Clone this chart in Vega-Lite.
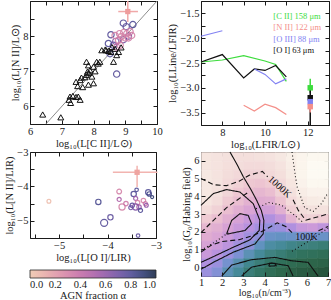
{
"$schema": "https://vega.github.io/schema/vega-lite/v6.json",
"autosize": {"type": "none"},
"padding": {"left": 30, "top": 1, "right": 301, "bottom": 299},
"background": "white",
"bounds": "flush",
"columns": 2,
"spacing": {"row": 27, "column": 44},
"config": {
  "font": "Liberation Serif",
  "view": {"stroke": "#1a1a1a", "strokeWidth": 1},
  "axis": {"domain": false, "grid": false, "tickSize": -4, "tickColor": "#1a1a1a", "tickWidth": 1, "labelPadding": 6, "labelFontSize": 10.5, "labelColor": "#1a1a1a", "titleFontSize": 10.5, "titleFontWeight": "normal", "titleColor": "#1a1a1a", "titlePadding": 2, "labelFlush": false, "labelOverlap": false, "labelBound": false},
  "text": {"font": "Liberation Serif"}
},
"resolve": {"scale": {"color": "independent", "size": "independent", "strokeDash": "independent", "stroke": "independent"}},
"concat": [
   {
    "width": 127, "height": 123,
    "resolve": {"axis": {"x": "independent", "y": "independent"}},
    "layer": [
     {
      "data": {"values": [{"x": 6.5, "y": 5.5, "x2": 10, "y2": 9}]},
      "mark": {"type": "rule", "color": "#8c8c8c", "strokeWidth": 1},
      "encoding": {
        "x": {"field": "x", "type": "quantitative", "scale": {"domain": [6, 10], "nice": false, "zero": false}, "axis": {"title": "log₁₀(L[C II]/L⊙)", "format": ".0f", "values": [6,6.5,7,7.5,8,8.5,9,9.5,10], "labelExpr": "datum.value % 1 === 0 ? datum.label : ''"}},
        "y": {"field": "y", "type": "quantitative", "scale": {"domain": [5.5, 9], "nice": false, "zero": false}, "axis": {"title": "log₁₀(L[N II]/L⊙)", "format": ".0f", "values": [5.5,6,6.5,7,7.5,8,8.5,9], "labelExpr": "datum.value % 1 === 0 && datum.value < 9 ? datum.label : ''"}},
        "x2": {"field": "x2"}, "y2": {"field": "y2"}
      }
     },
     {
      "data": {"values": [
        {"x": 8.94, "y": 8.37, "agn": 0.78}, {"x": 9.03, "y": 8.27, "agn": 0.75}, {"x": 9.24, "y": 8.33, "agn": 0.8},
        {"x": 8.55, "y": 8.04, "agn": 0.78}, {"x": 8.94, "y": 7.9, "agn": 0.72}, {"x": 8.47, "y": 7.79, "agn": 0.8},
        {"x": 8.63, "y": 7.74, "agn": 0.75}, {"x": 8.52, "y": 7.5, "agn": 0.8}, {"x": 8.73, "y": 6.92, "agn": 0.78},
        {"x": 9.1, "y": 8.0, "agn": 0.7}, {"x": 8.7, "y": 7.85, "agn": 0.65},
        {"x": 8.68, "y": 8.02, "agn": 0.3}, {"x": 8.82, "y": 8.07, "agn": 0.32}, {"x": 8.88, "y": 7.99, "agn": 0.28},
        {"x": 9.05, "y": 8.07, "agn": 0.3}, {"x": 9.15, "y": 8.13, "agn": 0.35}, {"x": 9.2, "y": 8.02, "agn": 0.3},
        {"x": 8.79, "y": 7.88, "agn": 0.33}, {"x": 8.84, "y": 7.74, "agn": 0.3}, {"x": 8.73, "y": 7.69, "agn": 0.38},
        {"x": 9.0, "y": 7.95, "agn": 0.3}, {"x": 8.95, "y": 8.1, "agn": 0.28}, {"x": 9.1, "y": 7.95, "agn": 0.32}
      ]},
      "mark": {"type": "point", "shape": "circle", "filled": false, "strokeWidth": 1.2, "size": 40, "opacity": 0.9},
      "encoding": {
        "x": {"field": "x", "type": "quantitative", "scale": {"domain": [6, 10], "nice": false, "zero": false}, "axis": null},
        "y": {"field": "y", "type": "quantitative", "scale": {"domain": [5.5, 9], "nice": false, "zero": false}, "axis": null},
        "color": {"field": "agn", "type": "quantitative", "legend": null, "scale": {"domain": [0,0.1,0.2,0.3,0.4,0.5,0.6,0.7,0.8,0.9,1], "range": ["#efc7ae","#e9b1aa","#e09aa9","#d483a8","#c46ea8","#ae62a9","#9159a8","#7154a4","#514d96","#323e74","#1b2946"]}}
      }
     },
     {
      "data": {"values": [
        {"x": 6.4, "y": 5.77}, {"x": 6.97, "y": 5.69}, {"x": 7.23, "y": 6.19}, {"x": 7.28, "y": 6.1}, {"x": 7.26, "y": 6.28},
        {"x": 7.35, "y": 6.3}, {"x": 7.45, "y": 6.27}, {"x": 7.52, "y": 6.28}, {"x": 7.58, "y": 6.19}, {"x": 7.45, "y": 6.7},
        {"x": 7.5, "y": 6.58}, {"x": 7.58, "y": 6.75}, {"x": 7.66, "y": 6.55}, {"x": 7.62, "y": 6.82}, {"x": 7.73, "y": 6.83},
        {"x": 7.81, "y": 6.99}, {"x": 7.89, "y": 7.03}, {"x": 7.95, "y": 6.85}, {"x": 8.0, "y": 6.66}, {"x": 7.84, "y": 6.62},
        {"x": 7.78, "y": 6.9}, {"x": 7.86, "y": 6.95}, {"x": 7.84, "y": 7.17}, {"x": 7.78, "y": 7.27}, {"x": 8.0, "y": 7.13},
        {"x": 8.05, "y": 7.0}, {"x": 8.1, "y": 7.27}, {"x": 8.2, "y": 7.27}, {"x": 8.15, "y": 7.22}, {"x": 8.26, "y": 7.6},
        {"x": 8.37, "y": 7.62}, {"x": 8.47, "y": 7.58}, {"x": 8.58, "y": 7.69}, {"x": 8.68, "y": 7.64}, {"x": 8.73, "y": 7.46},
        {"x": 8.63, "y": 7.27}, {"x": 8.79, "y": 7.55}, {"x": 8.87, "y": 7.68}, {"x": 8.55, "y": 7.55}, {"x": 8.4, "y": 7.6}
      ]},
      "mark": {"type": "point", "shape": "triangle-up", "filled": false, "stroke": "#111", "strokeWidth": 1, "size": 36, "opacity": 1},
      "encoding": {
        "x": {"field": "x", "type": "quantitative", "scale": {"domain": [6, 10], "nice": false, "zero": false}, "axis": null},
        "y": {"field": "y", "type": "quantitative", "scale": {"domain": [5.5, 9], "nice": false, "zero": false}, "axis": null}
      }
     },
     {
      "data": {"values": [{"x": 9.08, "y": 8.7, "lo": 8.78, "hi": 9.4}]},
      "mark": {"type": "rule", "color": "#f0a8a8", "strokeWidth": 1.5},
      "encoding": {
        "x": {"field": "lo", "type": "quantitative", "scale": {"domain": [6, 10], "nice": false, "zero": false}, "axis": null},
        "x2": {"field": "hi"},
        "y": {"field": "y", "type": "quantitative", "scale": {"domain": [5.5, 9], "nice": false, "zero": false}, "axis": null}
      }
     },
     {
      "data": {"values": [{"x": 9.08, "y": 8.7, "lo": 8.4, "hi": 9.0}]},
      "mark": {"type": "rule", "color": "#f0a8a8", "strokeWidth": 1.5},
      "encoding": {
        "x": {"field": "x", "type": "quantitative", "scale": {"domain": [6, 10], "nice": false, "zero": false}, "axis": null},
        "y": {"field": "lo", "type": "quantitative", "scale": {"domain": [5.5, 9], "nice": false, "zero": false}, "axis": null},
        "y2": {"field": "hi"}
      }
     },
     {
      "data": {"values": [{"x": 9.08, "y": 8.7}]},
      "mark": {"type": "point", "shape": "square", "filled": true, "color": "#ee9c9c", "size": 28, "opacity": 1},
      "encoding": {
        "x": {"field": "x", "type": "quantitative", "scale": {"domain": [6, 10], "nice": false, "zero": false}, "axis": {"orient": "top", "labels": false, "title": null, "values": [6,6.5,7,7.5,8,8.5,9,9.5,10]}},
        "y": {"field": "y", "type": "quantitative", "scale": {"domain": [5.5, 9], "nice": false, "zero": false}, "axis": {"orient": "right", "labels": false, "title": null, "values": [5.5,6,6.5,7,7.5,8,8.5,9]}}
      }
     }
    ]
   },
   {
    "width": 128, "height": 124,
    "resolve": {"axis": {"x": "independent", "y": "independent"}},
    "layer": [
     {
      "data": {"values": [
        {"line": "[C II] 158 μm", "seg": "a", "x": 7, "y": -2.48}, {"line": "[C II] 158 μm", "seg": "a", "x": 8, "y": -2.44},
        {"line": "[C II] 158 μm", "seg": "a", "x": 9, "y": -2.35}, {"line": "[C II] 158 μm", "seg": "a", "x": 10, "y": -2.46},
        {"line": "[C II] 158 μm", "seg": "a", "x": 10.5, "y": -2.53}, {"line": "[C II] 158 μm", "seg": "a", "x": 11, "y": -2.87},
        {"line": "[O I] 63 μm", "seg": "a", "x": 7, "y": -2.48}, {"line": "[O I] 63 μm", "seg": "a", "x": 8, "y": -2.33},
        {"line": "[O I] 63 μm", "seg": "a", "x": 9, "y": -2.8}, {"line": "[O I] 63 μm", "seg": "a", "x": 9.5, "y": -2.62},
        {"line": "[O I] 63 μm", "seg": "a", "x": 10, "y": -2.65}, {"line": "[O I] 63 μm", "seg": "a", "x": 10.5, "y": -2.55},
        {"line": "[O I] 63 μm", "seg": "a", "x": 11, "y": -2.78},
        {"line": "[O III] 88 μm", "seg": "a", "x": 7, "y": -1.96}, {"line": "[O III] 88 μm", "seg": "a", "x": 8, "y": -1.85},
        {"line": "[O III] 88 μm", "seg": "b", "x": 9.5, "y": -2.62}, {"line": "[O III] 88 μm", "seg": "b", "x": 10, "y": -2.73},
        {"line": "[O III] 88 μm", "seg": "b", "x": 10.5, "y": -2.92}, {"line": "[O III] 88 μm", "seg": "b", "x": 11, "y": -2.82},
        {"line": "[N II] 122 μm", "seg": "a", "x": 9, "y": -3.35}, {"line": "[N II] 122 μm", "seg": "a", "x": 9.5, "y": -3.47},
        {"line": "[N II] 122 μm", "seg": "a", "x": 10, "y": -3.33}, {"line": "[N II] 122 μm", "seg": "a", "x": 10.5, "y": -3.4},
        {"line": "[N II] 122 μm", "seg": "a", "x": 11, "y": -3.54}
      ]},
      "mark": {"type": "line", "strokeWidth": 1.2},
      "encoding": {
        "x": {"field": "x", "type": "quantitative", "scale": {"domain": [7, 13], "nice": false, "zero": false}, "axis": {"title": "log₁₀(LFIR/L⊙)", "format": ".0f", "values": [7,8,9,10,11,12,13], "labelExpr": "datum.value % 2 === 0 ? datum.label : ''"}},
        "y": {"field": "y", "type": "quantitative", "scale": {"domain": [-3.75, -1.25], "nice": false, "zero": false}, "axis": {"title": "log₁₀(LLine/LFIR)", "format": ".1f", "values": [-3.75,-3.5,-3.25,-3,-2.75,-2.5,-2.25,-2,-1.75,-1.5,-1.25], "labelExpr": "(datum.value * 2) % 1 === 0 ? datum.label : ''"}},
        "color": {"field": "line", "type": "nominal", "legend": null, "scale": {"domain": ["[C II] 158 μm", "[N II] 122 μm", "[O III] 88 μm", "[O I] 63 μm"], "range": ["#3ddc3d", "#f4908a", "#8282f2", "#111111"]}},
        "detail": {"field": "seg"}
      }
     },
     {
      "data": {"values": [
        {"line": "[C II] 158 μm", "x": 12.12, "y": -3.0, "lo": -3.1, "hi": -2.82},
        {"line": "[O I] 63 μm", "x": 12.12, "y": -3.2, "lo": -3.75, "hi": -3.0},
        {"line": "[O III] 88 μm", "x": 12.12, "y": -3.28, "lo": -3.4, "hi": -3.15},
        {"line": "[N II] 122 μm", "x": 12.12, "y": -3.38, "lo": -3.5, "hi": -3.25}
      ]},
      "mark": {"type": "rule", "strokeWidth": 1.5},
      "encoding": {
        "x": {"field": "x", "type": "quantitative", "scale": {"domain": [7, 13], "nice": false, "zero": false}, "axis": null},
        "y": {"field": "lo", "type": "quantitative", "scale": {"domain": [-3.75, -1.25], "nice": false, "zero": false}, "axis": null},
        "y2": {"field": "hi"},
        "color": {"field": "line", "type": "nominal", "legend": null, "scale": {"domain": ["[C II] 158 μm", "[N II] 122 μm", "[O III] 88 μm", "[O I] 63 μm"], "range": ["#3ddc3d", "#f4908a", "#8282f2", "#111111"]}}
      }
     },
     {
      "data": {"values": [
        {"line": "[C II] 158 μm", "x": 12.12, "y": -3.0},
        {"line": "[O I] 63 μm", "x": 12.12, "y": -3.2},
        {"line": "[O III] 88 μm", "x": 12.12, "y": -3.28},
        {"line": "[N II] 122 μm", "x": 12.12, "y": -3.38}
      ]},
      "mark": {"type": "point", "shape": "square", "filled": true, "size": 30, "opacity": 1},
      "encoding": {
        "x": {"field": "x", "type": "quantitative", "scale": {"domain": [7, 13], "nice": false, "zero": false}, "axis": null},
        "y": {"field": "y", "type": "quantitative", "scale": {"domain": [-3.75, -1.25], "nice": false, "zero": false}, "axis": null},
        "color": {"field": "line", "type": "nominal", "legend": null, "scale": {"domain": ["[C II] 158 μm", "[N II] 122 μm", "[O III] 88 μm", "[O I] 63 μm"], "range": ["#3ddc3d", "#f4908a", "#8282f2", "#111111"]}}
      }
     },
     {
      "data": {"values": [
        {"line": "[C II] 158 μm", "x": 10.39, "y": -1.55},
        {"line": "[N II] 122 μm", "x": 10.39, "y": -1.78},
        {"line": "[O III] 88 μm", "x": 10.39, "y": -2.01},
        {"line": "[O I] 63 μm", "x": 10.39, "y": -2.24}
      ]},
      "mark": {"type": "text", "align": "left", "baseline": "middle", "fontSize": 8.5, "font": "Liberation Serif"},
      "encoding": {
        "x": {"field": "x", "type": "quantitative", "scale": {"domain": [7, 13], "nice": false, "zero": false}, "axis": {"orient": "top", "labels": false, "title": null, "values": [7,8,9,10,11,12,13]}},
        "y": {"field": "y", "type": "quantitative", "scale": {"domain": [-3.75, -1.25], "nice": false, "zero": false}, "axis": {"orient": "right", "labels": false, "title": null, "values": [-3.75,-3.5,-3.25,-3,-2.75,-2.5,-2.25,-2,-1.75,-1.5,-1.25]}},
        "text": {"field": "line"},
        "color": {"field": "line", "type": "nominal", "legend": null, "scale": {"domain": ["[C II] 158 μm", "[N II] 122 μm", "[O III] 88 μm", "[O I] 63 μm"], "range": ["#3ddc3d", "#f4908a", "#8282f2", "#111111"]}}
      }
     }
    ]
   },
   {
    "width": 126, "height": 86,
    "resolve": {"axis": {"x": "independent", "y": "independent"}},
    "layer": [
     {
      "data": {"values": [
        {"x": -5.21, "y": -4.43, "agn": 0.05, "lir": 2.2}, {"x": -4.19, "y": -4.45, "agn": 0.82, "lir": 3},
        {"x": -4.07, "y": -5.06, "agn": 0.78, "lir": 4}, {"x": -3.94, "y": -4.9, "agn": 0.75, "lir": 3},
        {"x": -3.76, "y": -4.15, "agn": 0.3, "lir": 2.7}, {"x": -3.76, "y": -4.38, "agn": 0.5, "lir": 2.3},
        {"x": -3.7, "y": -4.6, "agn": 0.3, "lir": 3.5}, {"x": -3.62, "y": -4.5, "agn": 0.35, "lir": 2.5},
        {"x": -3.46, "y": -4.22, "agn": 0.8, "lir": 3}, {"x": -3.4, "y": -4.1, "agn": 0.8, "lir": 2},
        {"x": -3.42, "y": -4.35, "agn": 0.55, "lir": 2.3}, {"x": -3.38, "y": -4.47, "agn": 0.3, "lir": 2.5},
        {"x": -3.49, "y": -4.55, "agn": 0.75, "lir": 2.5}, {"x": -3.42, "y": -4.6, "agn": 0.65, "lir": 3.5},
        {"x": -3.35, "y": -4.6, "agn": 0.55, "lir": 2.5}, {"x": -3.52, "y": -4.62, "agn": 0.7, "lir": 2.3},
        {"x": -3.32, "y": -4.7, "agn": 0.8, "lir": 2.3}, {"x": -3.26, "y": -4.41, "agn": 0.3, "lir": 2.5},
        {"x": -3.22, "y": -4.5, "agn": 0.35, "lir": 2.3}, {"x": -3.16, "y": -4.17, "agn": 0.8, "lir": 3},
        {"x": -3.14, "y": -4.22, "agn": 0.85, "lir": 2.5}, {"x": -3.08, "y": -4.31, "agn": 0.9, "lir": 1.7},
        {"x": -3.37, "y": -5.43, "agn": 0.75, "lir": 2}, {"x": -3.2, "y": -4.55, "agn": 0.6, "lir": 2.2}
      ]},
      "mark": {"type": "point", "shape": "circle", "filled": false, "strokeWidth": 1.2, "opacity": 0.9},
      "encoding": {
        "x": {"field": "x", "type": "quantitative", "scale": {"domain": [-5.6, -3], "nice": false, "zero": false}, "axis": {"title": "log₁₀(L[O I]/LIR)", "format": ".0f", "values": [-5.5,-5,-4.5,-4,-3.5,-3], "labelExpr": "datum.value % 1 === 0 ? datum.label : ''"}},
        "y": {"field": "y", "type": "quantitative", "scale": {"domain": [-5.5, -3], "nice": false, "zero": false}, "axis": {"title": "log₁₀(L[N II]/LIR)", "format": ".0f", "values": [-5.5,-5,-4.5,-4,-3.5,-3], "labelExpr": "datum.value % 1 === 0 ? datum.label : ''"}},
        "size": {"field": "lir", "type": "quantitative", "legend": null, "scale": {"type": "pow", "exponent": 2, "domain": [0, 4], "range": [0, 50]}},
        "color": {"field": "agn", "type": "quantitative",
          "scale": {"domain": [0,0.1,0.2,0.3,0.4,0.5,0.6,0.7,0.8,0.9,1], "range": ["#efc7ae","#e9b1aa","#e09aa9","#d483a8","#c46ea8","#ae62a9","#9159a8","#7154a4","#514d96","#323e74","#1b2946"]},
          "legend": {"orient": "none", "legendX": 0, "legendY": 118, "direction": "horizontal", "gradientLength": 126, "gradientThickness": 8, "titleOrient": "bottom", "title": "AGN fraction α", "values": [0,0.2,0.4,0.6,0.8,1], "format": ".1f", "labelFontSize": 10.5, "titleFontSize": 10.5, "titleFontWeight": "normal", "padding": 0, "gradientStrokeColor": "#111", "gradientStrokeWidth": 0.8, "labelOffset": 2, "labelAlign": "center", "titleAnchor": "middle", "titlePadding": 0, "labelOverlap": false, "labelColor": "#1a1a1a", "titleColor": "#1a1a1a", "titleFont": "Liberation Serif", "labelFont": "Liberation Serif"}}
      }
     },
     {
      "data": {"values": [{"x": -3.39, "y": -3.59, "lo": -3.89, "hi": -2.97}]},
      "mark": {"type": "rule", "color": "#f2b4b0", "strokeWidth": 1.5},
      "encoding": {
        "x": {"field": "lo", "type": "quantitative", "scale": {"domain": [-5.6, -3], "nice": false, "zero": false}, "axis": null},
        "x2": {"field": "hi"},
        "y": {"field": "y", "type": "quantitative", "scale": {"domain": [-5.5, -3], "nice": false, "zero": false}, "axis": null}
      }
     },
     {
      "data": {"values": [{"x": -3.39, "y": -3.59, "lo": -4.02, "hi": -3.4}]},
      "mark": {"type": "rule", "color": "#f2b4b0", "strokeWidth": 1.5},
      "encoding": {
        "x": {"field": "x", "type": "quantitative", "scale": {"domain": [-5.6, -3], "nice": false, "zero": false}, "axis": null},
        "y": {"field": "lo", "type": "quantitative", "scale": {"domain": [-5.5, -3], "nice": false, "zero": false}, "axis": null},
        "y2": {"field": "hi"}
      }
     },
     {
      "data": {"values": [{"x": -3.39, "y": -3.59}]},
      "mark": {"type": "point", "shape": "square", "filled": true, "color": "#eea4a0", "size": 28, "opacity": 1},
      "encoding": {
        "x": {"field": "x", "type": "quantitative", "scale": {"domain": [-5.6, -3], "nice": false, "zero": false}, "axis": {"orient": "top", "labels": false, "title": null, "values": [-5.5,-5,-4.5,-4,-3.5,-3]}},
        "y": {"field": "y", "type": "quantitative", "scale": {"domain": [-5.5, -3], "nice": false, "zero": false}, "axis": {"orient": "right", "labels": false, "title": null, "values": [-5.5,-5,-4.5,-4,-3.5,-3]}}
      }
     }
    ]
   },
   {
    "width": 127, "height": 124,
    "resolve": {"axis": {"x": "independent", "y": "independent"}},
    "layer": [
     {
      "data": {"values": [
        {"n":1,"g":6,"v":0.92},{"n":1.5,"g":6,"v":0.91},{"n":2,"g":6,"v":0.90},{"n":2.5,"g":6,"v":0.89},{"n":3,"g":6,"v":0.89},{"n":3.5,"g":6,"v":0.90},{"n":4,"g":6,"v":0.91},{"n":4.5,"g":6,"v":0.93},{"n":5,"g":6,"v":0.96},{"n":5.5,"g":6,"v":0.98},{"n":6,"g":6,"v":0.99},{"n":6.5,"g":6,"v":0.99},
        {"n":1,"g":5.5,"v":0.92},{"n":1.5,"g":5.5,"v":0.91},{"n":2,"g":5.5,"v":0.89},{"n":2.5,"g":5.5,"v":0.88},{"n":3,"g":5.5,"v":0.87},{"n":3.5,"g":5.5,"v":0.87},{"n":4,"g":5.5,"v":0.88},{"n":4.5,"g":5.5,"v":0.91},{"n":5,"g":5.5,"v":0.95},{"n":5.5,"g":5.5,"v":0.98},{"n":6,"g":5.5,"v":1.0},{"n":6.5,"g":5.5,"v":1.0},
        {"n":1,"g":5,"v":0.93},{"n":1.5,"g":5,"v":0.91},{"n":2,"g":5,"v":0.88},{"n":2.5,"g":5,"v":0.86},{"n":3,"g":5,"v":0.84},{"n":3.5,"g":5,"v":0.84},{"n":4,"g":5,"v":0.86},{"n":4.5,"g":5,"v":0.89},{"n":5,"g":5,"v":0.94},{"n":5.5,"g":5,"v":0.98},{"n":6,"g":5,"v":1.0},{"n":6.5,"g":5,"v":1.0},
        {"n":1,"g":4.5,"v":0.93},{"n":1.5,"g":4.5,"v":0.91},{"n":2,"g":4.5,"v":0.87},{"n":2.5,"g":4.5,"v":0.84},{"n":3,"g":4.5,"v":0.81},{"n":3.5,"g":4.5,"v":0.80},{"n":4,"g":4.5,"v":0.82},{"n":4.5,"g":4.5,"v":0.87},{"n":5,"g":4.5,"v":0.92},{"n":5.5,"g":4.5,"v":0.97},{"n":6,"g":4.5,"v":0.99},{"n":6.5,"g":4.5,"v":0.99},
        {"n":1,"g":4,"v":0.93},{"n":1.5,"g":4,"v":0.90},{"n":2,"g":4,"v":0.85},{"n":2.5,"g":4,"v":0.81},{"n":3,"g":4,"v":0.78},{"n":3.5,"g":4,"v":0.76},{"n":4,"g":4,"v":0.78},{"n":4.5,"g":4,"v":0.84},{"n":5,"g":4,"v":0.90},{"n":5.5,"g":4,"v":0.95},{"n":6,"g":4,"v":0.97},{"n":6.5,"g":4,"v":0.97},
        {"n":1,"g":3.5,"v":0.92},{"n":1.5,"g":3.5,"v":0.88},{"n":2,"g":3.5,"v":0.82},{"n":2.5,"g":3.5,"v":0.78},{"n":3,"g":3.5,"v":0.74},{"n":3.5,"g":3.5,"v":0.72},{"n":4,"g":3.5,"v":0.73},{"n":4.5,"g":3.5,"v":0.80},{"n":5,"g":3.5,"v":0.87},{"n":5.5,"g":3.5,"v":0.92},{"n":6,"g":3.5,"v":0.94},{"n":6.5,"g":3.5,"v":0.95},
        {"n":1,"g":3,"v":0.88},{"n":1.5,"g":3,"v":0.84},{"n":2,"g":3,"v":0.78},{"n":2.5,"g":3,"v":0.73},{"n":3,"g":3,"v":0.69},{"n":3.5,"g":3,"v":0.66},{"n":4,"g":3,"v":0.66},{"n":4.5,"g":3,"v":0.73},{"n":5,"g":3,"v":0.83},{"n":5.5,"g":3,"v":0.88},{"n":6,"g":3,"v":0.90},{"n":6.5,"g":3,"v":0.90},
        {"n":1,"g":2.5,"v":0.82},{"n":1.5,"g":2.5,"v":0.78},{"n":2,"g":2.5,"v":0.73},{"n":2.5,"g":2.5,"v":0.68},{"n":3,"g":2.5,"v":0.63},{"n":3.5,"g":2.5,"v":0.59},{"n":4,"g":2.5,"v":0.56},{"n":4.5,"g":2.5,"v":0.62},{"n":5,"g":2.5,"v":0.75},{"n":5.5,"g":2.5,"v":0.83},{"n":6,"g":2.5,"v":0.84},{"n":6.5,"g":2.5,"v":0.82},
        {"n":1,"g":2,"v":0.76},{"n":1.5,"g":2,"v":0.73},{"n":2,"g":2,"v":0.68},{"n":2.5,"g":2,"v":0.63},{"n":3,"g":2,"v":0.58},{"n":3.5,"g":2,"v":0.53},{"n":4,"g":2,"v":0.48},{"n":4.5,"g":2,"v":0.50},{"n":5,"g":2,"v":0.56},{"n":5.5,"g":2,"v":0.62},{"n":6,"g":2,"v":0.64},{"n":6.5,"g":2,"v":0.60},
        {"n":1,"g":1.5,"v":0.72},{"n":1.5,"g":1.5,"v":0.69},{"n":2,"g":1.5,"v":0.64},{"n":2.5,"g":1.5,"v":0.58},{"n":3,"g":1.5,"v":0.52},{"n":3.5,"g":1.5,"v":0.46},{"n":4,"g":1.5,"v":0.40},{"n":4.5,"g":1.5,"v":0.39},{"n":5,"g":1.5,"v":0.40},{"n":5.5,"g":1.5,"v":0.42},{"n":6,"g":1.5,"v":0.42},{"n":6.5,"g":1.5,"v":0.40},
        {"n":1,"g":1,"v":0.68},{"n":1.5,"g":1,"v":0.64},{"n":2,"g":1,"v":0.59},{"n":2.5,"g":1,"v":0.52},{"n":3,"g":1,"v":0.45},{"n":3.5,"g":1,"v":0.38},{"n":4,"g":1,"v":0.32},{"n":4.5,"g":1,"v":0.30},{"n":5,"g":1,"v":0.27},{"n":5.5,"g":1,"v":0.25},{"n":6,"g":1,"v":0.24},{"n":6.5,"g":1,"v":0.22},
        {"n":1,"g":0.5,"v":0.63},{"n":1.5,"g":0.5,"v":0.58},{"n":2,"g":0.5,"v":0.51},{"n":2.5,"g":0.5,"v":0.43},{"n":3,"g":0.5,"v":0.36},{"n":3.5,"g":0.5,"v":0.30},{"n":4,"g":0.5,"v":0.25},{"n":4.5,"g":0.5,"v":0.22},{"n":5,"g":0.5,"v":0.18},{"n":5.5,"g":0.5,"v":0.16},{"n":6,"g":0.5,"v":0.15},{"n":6.5,"g":0.5,"v":0.14},
        {"n":1,"g":0,"v":0.56},{"n":1.5,"g":0,"v":0.50},{"n":2,"g":0,"v":0.42},{"n":2.5,"g":0,"v":0.35},{"n":3,"g":0,"v":0.28},{"n":3.5,"g":0,"v":0.23},{"n":4,"g":0,"v":0.18},{"n":4.5,"g":0,"v":0.15},{"n":5,"g":0,"v":0.13},{"n":5.5,"g":0,"v":0.11},{"n":6,"g":0,"v":0.10},{"n":6.5,"g":0,"v":0.09},
        {"n":1,"g":-0.5,"v":0.50},{"n":1.5,"g":-0.5,"v":0.44},{"n":2,"g":-0.5,"v":0.36},{"n":2.5,"g":-0.5,"v":0.30},{"n":3,"g":-0.5,"v":0.23},{"n":3.5,"g":-0.5,"v":0.18},{"n":4,"g":-0.5,"v":0.14},{"n":4.5,"g":-0.5,"v":0.11},{"n":5,"g":-0.5,"v":0.08},{"n":5.5,"g":-0.5,"v":0.06},{"n":6,"g":-0.5,"v":0.05},{"n":6.5,"g":-0.5,"v":0.04}
      ]},
      "mark": {"type": "rect", "strokeWidth": 0.6},
      "encoding": {
        "x": {"field": "n", "type": "quantitative", "bin": {"binned": true, "step": 0.5}, "scale": {"domain": [1, 7], "nice": false, "zero": false}, "axis": {"title": "log₁₀(n/cm⁻³)", "values": [1,2,3,4,5,6,7], "format": "d", "labelPadding": 5, "titlePadding": 0, "titleFontSize": 10}},
        "y": {"field": "g", "type": "quantitative", "bin": {"binned": true, "step": 0.5}, "scale": {"domain": [-0.5, 6.5], "nice": false, "zero": false}, "axis": {"title": "log₁₀(G₀/Habing field)", "values": [0,1,2,3,4,5,6], "format": "d"}},
        "color": {"field": "v", "type": "quantitative", "legend": null, "scale": {"domain": [0,0.12,0.25,0.35,0.45,0.55,0.65,0.75,0.85,0.93,1], "range": ["#234d35","#2f6a4f","#3f8280","#5a90b0","#8a90d8","#ac8fe0","#cf9cd8","#e4b4d0","#f1d6d8","#f6e8e2","#fdfaf3"]}},
        "stroke": {"field": "v", "type": "quantitative", "legend": null, "scale": {"domain": [0,0.12,0.25,0.35,0.45,0.55,0.65,0.75,0.85,0.93,1], "range": ["#234d35","#2f6a4f","#3f8280","#5a90b0","#8a90d8","#ac8fe0","#cf9cd8","#e4b4d0","#f1d6d8","#f6e8e2","#fdfaf3"]}}
      }
     },
     {
      "data": {"values": [
        {"c":"S1","k":"S","i":0,"n":2.37,"g":6.5},{"c":"S1","k":"S","i":1,"n":2.7,"g":5.8},{"c":"S1","k":"S","i":2,"n":3.0,"g":5.1},{"c":"S1","k":"S","i":3,"n":3.35,"g":4.4},{"c":"S1","k":"S","i":4,"n":3.63,"g":3.77},{"c":"S1","k":"S","i":5,"n":3.85,"g":3.2},{"c":"S1","k":"S","i":6,"n":3.97,"g":2.64},{"c":"S1","k":"S","i":7,"n":3.94,"g":1.88},{"c":"S1","k":"S","i":8,"n":3.55,"g":1.31},{"c":"S1","k":"S","i":9,"n":2.52,"g":0.84},{"c":"S1","k":"S","i":10,"n":1.58,"g":0.27},{"c":"S1","k":"S","i":11,"n":1.0,"g":-0.12},
        {"c":"S2","k":"S","i":0,"n":1.0,"g":3.49},{"c":"S2","k":"S","i":1,"n":1.58,"g":4.15},{"c":"S2","k":"S","i":2,"n":2.21,"g":4.38},{"c":"S2","k":"S","i":3,"n":2.84,"g":4.24},{"c":"S2","k":"S","i":4,"n":3.47,"g":3.58},{"c":"S2","k":"S","i":5,"n":3.78,"g":2.64},{"c":"S2","k":"S","i":6,"n":3.75,"g":2.07},{"c":"S2","k":"S","i":7,"n":3.31,"g":1.54},{"c":"S2","k":"S","i":8,"n":2.52,"g":1.12},{"c":"S2","k":"S","i":9,"n":1.58,"g":0.59},{"c":"S2","k":"S","i":10,"n":1.0,"g":0.27},
        {"c":"S3","k":"S","i":0,"n":2.21,"g":1.88},{"c":"S3","k":"S","i":1,"n":2.45,"g":2.64},{"c":"S3","k":"S","i":2,"n":2.84,"g":3.02},{"c":"S3","k":"S","i":3,"n":3.23,"g":2.92},{"c":"S3","k":"S","i":4,"n":3.39,"g":2.45},{"c":"S3","k":"S","i":5,"n":3.08,"g":2.07},{"c":"S3","k":"S","i":6,"n":2.21,"g":1.86},
        {"c":"S4","k":"S","i":0,"n":1.98,"g":-0.5},{"c":"S4","k":"S","i":1,"n":2.45,"g":0.12},{"c":"S4","k":"S","i":2,"n":3.39,"g":0.42},{"c":"S4","k":"S","i":3,"n":4.49,"g":0.55},{"c":"S4","k":"S","i":4,"n":5.28,"g":0.36},{"c":"S4","k":"S","i":5,"n":6.06,"g":0.27},{"c":"S4","k":"S","i":6,"n":6.53,"g":-0.5},
        {"c":"S5","k":"S","i":0,"n":2.92,"g":-0.5},{"c":"S5","k":"S","i":1,"n":3.39,"g":0.0},{"c":"S5","k":"S","i":2,"n":4.33,"g":0.23},{"c":"S5","k":"S","i":3,"n":5.12,"g":0.08},{"c":"S5","k":"S","i":4,"n":5.35,"g":-0.5},
        {"c":"S6","k":"S","i":0,"n":4.2,"g":0.05},{"c":"S6","k":"S","i":1,"n":4.25,"g":0.22},{"c":"S6","k":"S","i":2,"n":4.5,"g":0.22},{"c":"S6","k":"S","i":3,"n":4.55,"g":0.08},{"c":"S6","k":"S","i":4,"n":4.2,"g":0.05},
        {"c":"D1a","k":"D","i":0,"n":1.0,"g":5.0},{"c":"D1a","k":"D","i":1,"n":1.6,"g":4.65},{"c":"D1a","k":"D","i":2,"n":2.2,"g":4.6},{"c":"D1a","k":"D","i":3,"n":2.8,"g":4.85},{"c":"D1a","k":"D","i":4,"n":3.3,"g":5.2},{"c":"D1a","k":"D","i":5,"n":3.9,"g":5.4},{"c":"D1a","k":"D","i":6,"n":4.15,"g":5.1},
        {"c":"D1b","k":"D","i":0,"n":5.35,"g":3.8},{"c":"D1b","k":"D","i":1,"n":5.6,"g":3.2},{"c":"D1b","k":"D","i":2,"n":5.95,"g":2.65},{"c":"D1b","k":"D","i":3,"n":6.4,"g":2.8},{"c":"D1b","k":"D","i":4,"n":7.0,"g":3.0},
        {"c":"D2a","k":"D","i":0,"n":1.0,"g":0.85},{"c":"D2a","k":"D","i":1,"n":1.5,"g":1.25},{"c":"D2a","k":"D","i":2,"n":2.0,"g":1.45},{"c":"D2a","k":"D","i":3,"n":2.8,"g":1.55},{"c":"D2a","k":"D","i":4,"n":3.5,"g":1.8},{"c":"D2a","k":"D","i":5,"n":4.1,"g":2.15},{"c":"D2a","k":"D","i":6,"n":4.6,"g":2.5},{"c":"D2a","k":"D","i":7,"n":5.0,"g":2.3},{"c":"D2a","k":"D","i":8,"n":5.3,"g":1.95},
        {"c":"D2b","k":"D","i":0,"n":6.55,"g":2.05},{"c":"D2b","k":"D","i":1,"n":7.0,"g":2.3},
        {"c":"D3","k":"D","i":0,"n":1.0,"g":1.95},{"c":"D3","k":"D","i":1,"n":1.6,"g":2.65},{"c":"D3","k":"D","i":2,"n":2.2,"g":3.35},{"c":"D3","k":"D","i":3,"n":2.9,"g":3.95},{"c":"D3","k":"D","i":4,"n":3.2,"g":4.2},
        {"c":"P1","k":"P","i":0,"n":5.3,"g":6.5},{"c":"P1","k":"P","i":1,"n":5.45,"g":5.2},{"c":"P1","k":"P","i":2,"n":5.55,"g":4.5},{"c":"P1","k":"P","i":3,"n":5.9,"g":3.35},{"c":"P1","k":"P","i":4,"n":6.3,"g":3.15},{"c":"P1","k":"P","i":5,"n":6.7,"g":3.6},{"c":"P1","k":"P","i":6,"n":7.0,"g":4.2},
        {"c":"P2","k":"P","i":0,"n":3.6,"g":3.3},{"c":"P2","k":"P","i":1,"n":4.2,"g":3.65},{"c":"P2","k":"P","i":2,"n":4.8,"g":3.5},{"c":"P2","k":"P","i":3,"n":5.4,"g":2.95},{"c":"P2","k":"P","i":4,"n":5.8,"g":2.55},
        {"c":"P3","k":"P","i":0,"n":5.3,"g":0.9},{"c":"P3","k":"P","i":1,"n":6.0,"g":1.4},{"c":"P3","k":"P","i":2,"n":7.0,"g":2.2},
        {"c":"P4","k":"P","i":0,"n":1.0,"g":0.95},{"c":"P4","k":"P","i":1,"n":1.7,"g":1.45},{"c":"P4","k":"P","i":2,"n":2.3,"g":1.95}
      ]},
      "mark": {"type": "line", "color": "#111", "strokeWidth": 1.1},
      "encoding": {
        "x": {"field": "n", "type": "quantitative", "scale": {"domain": [1, 7], "nice": false, "zero": false}, "axis": null},
        "y": {"field": "g", "type": "quantitative", "scale": {"domain": [-0.5, 6.5], "nice": false, "zero": false}, "axis": null},
        "detail": {"field": "c"},
        "order": {"field": "i", "type": "quantitative"},
        "strokeDash": {"field": "k", "type": "nominal", "legend": null, "scale": {"domain": ["S", "D", "P"], "range": [[1, 0], [5, 3], [1, 2.5]]}}
      }
     },
     {
      "data": {"values": [{"n": 4.72, "g": 4.53, "label": "1000K"}]},
      "mark": {"type": "text", "angle": 42, "fontSize": 10, "font": "Liberation Serif", "color": "#111"},
      "encoding": {
        "x": {"field": "n", "type": "quantitative", "scale": {"domain": [1, 7], "nice": false, "zero": false}, "axis": null},
        "y": {"field": "g", "type": "quantitative", "scale": {"domain": [-0.5, 6.5], "nice": false, "zero": false}, "axis": null},
        "text": {"field": "label"}
      }
     },
     {
      "data": {"values": [{"n": 5.98, "g": 1.69, "label": "100K"}]},
      "mark": {"type": "text", "fontSize": 10, "font": "Liberation Serif", "color": "#111"},
      "encoding": {
        "x": {"field": "n", "type": "quantitative", "scale": {"domain": [1, 7], "nice": false, "zero": false}, "axis": {"orient": "top", "labels": false, "title": null, "values": [1,2,3,4,5,6,7]}},
        "y": {"field": "g", "type": "quantitative", "scale": {"domain": [-0.5, 6.5], "nice": false, "zero": false}, "axis": {"orient": "right", "labels": false, "title": null, "values": [0,1,2,3,4,5,6]}},
        "text": {"field": "label"}
      }
     }
    ]
   }
]
}
